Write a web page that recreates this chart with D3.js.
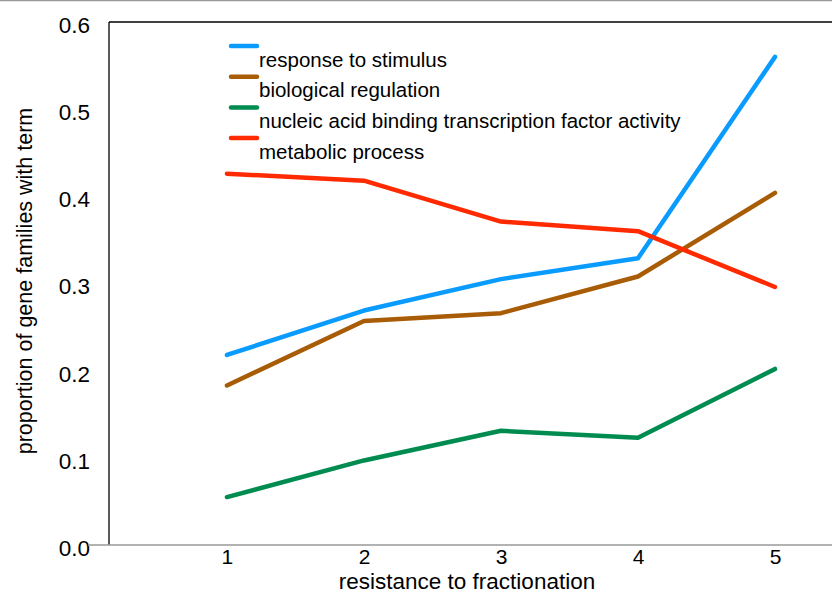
<!DOCTYPE html>
<html><head><meta charset="utf-8">
<script src="https://cdn.jsdelivr.net/npm/d3@7"></script>
<style>body{margin:0;background:#fff}svg{display:block}text{font-family:"Liberation Sans",Arial,sans-serif;fill:#000}</style>
</head><body>
<svg id="c" width="832" height="594"></svg>
<script>
const xValues = [1, 2, 3, 4, 5];
const seriesNames = ["response to stimulus", "biological regulation", "nucleic acid binding transcription factor activity", "metabolic process"];
const responseToStimulus = [0.218, 0.269, 0.305, 0.329, 0.560];
const biologicalRegulation = [0.183, 0.257, 0.266, 0.308, 0.404];
const nucleicAcidBinding = [0.055, 0.097, 0.131, 0.123, 0.202];
const metabolicProcess = [0.426, 0.418, 0.371, 0.360, 0.296];
const yTicks = [0.0, 0.1, 0.2, 0.3, 0.4, 0.5, 0.6];
const xTicks = [1, 2, 3, 4, 5];
const colors = ["#0a9bff", "#a85c06", "#008c50", "#ff2a00"];
const series = [responseToStimulus, biologicalRegulation, nucleicAcidBinding, metabolicProcess];

const svg = d3.select("#c");
const L = 109, R = 832, T = 22, B = 545;
const x = d3.scaleLinear().domain([0.139, 5.416]).range([L, R]);
const y = d3.scaleLinear().domain([0, 0.6]).range([B, T]);

// top gray border
svg.append("line").attr("x1",0).attr("x2",832).attr("y1",0.5).attr("y2",0.5).attr("stroke","#999").attr("stroke-width",1.5);

// top frame line
svg.append("line").attr("x1",L).attr("x2",R).attr("y1",T).attr("y2",T).attr("stroke","#000").attr("stroke-width",1.3);
// left axis
svg.append("line").attr("x1",L).attr("x2",L).attr("y1",T).attr("y2",B).attr("stroke","#000").attr("stroke-width",1.3);

// y tick labels
const yAxis = svg.append("g").attr("transform",`translate(${L},0)`)
  .call(d3.axisLeft(y).tickValues(yTicks).tickFormat(d3.format(".1f")).tickSize(0).tickPadding(19));
yAxis.select(".domain").remove();
yAxis.attr("font-size", null);
yAxis.selectAll("text").style("font-size","22.5px").attr("font-family",null).attr("dy","0.35em").attr("y",2.5);

// bottom axis
const xAxis = svg.append("g").attr("transform",`translate(0,${B})`)
  .call(d3.axisBottom(x).tickValues(xTicks).tickFormat(d3.format("d")).tickSize(0).tickPadding(4));
xAxis.select(".domain").remove();
xAxis.attr("font-size", null);
xAxis.selectAll("text").style("font-size","21px").attr("font-family",null);
svg.append("line").attr("x1",88).attr("x2",R).attr("y1",B).attr("y2",B).attr("stroke","#999").attr("stroke-width",1.5);

// lines
const line = d3.line().x((d,i)=>x(xValues[i])).y(d=>y(d));
series.forEach((s,i)=>{
  svg.append("path").datum(s).attr("d",line).attr("fill","none")
    .attr("stroke",colors[i]).attr("stroke-width",4.5).attr("stroke-linecap","round").attr("stroke-linejoin","round");
});

// legend
const lg = svg.append("g");
seriesNames.forEach((n,i)=>{
  const yy = 46 + i*30.7;
  lg.append("line").attr("x1",231).attr("x2",257).attr("y1",yy).attr("y2",yy)
    .attr("stroke",colors[i]).attr("stroke-width",4.5).attr("stroke-linecap","round");
  lg.append("text").attr("x",259).attr("y",yy+20.5).style("font-size","20.5px").text(n);
});

// axis titles
svg.append("text").attr("x",467).attr("y",589).attr("text-anchor","middle").style("font-size","22.5px").text("resistance to fractionation");
svg.append("text").attr("transform","translate(32,281) rotate(-90)").attr("text-anchor","middle").style("font-size","21.5px").text("proportion of gene families with term");
</script>
</body></html>
